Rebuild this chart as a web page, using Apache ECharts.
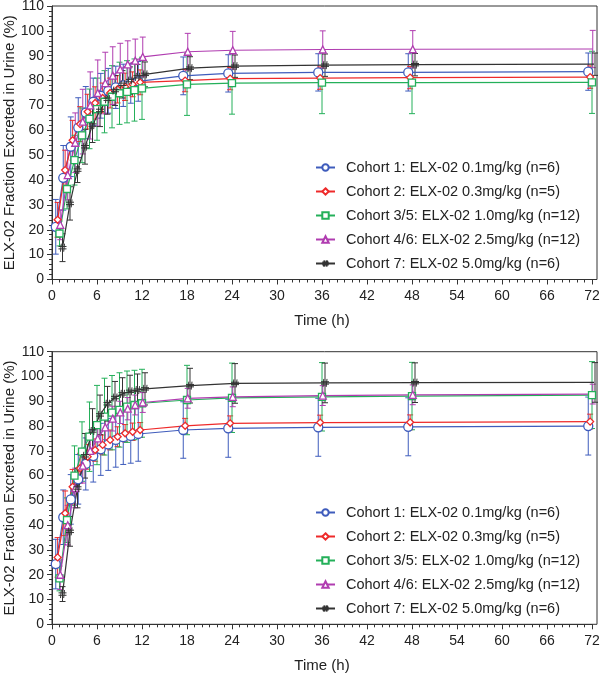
<!DOCTYPE html>
<html><head><meta charset="utf-8">
<script src="https://cdn.jsdelivr.net/npm/echarts@6/dist/echarts.min.js"></script>
<style>html,body{margin:0;padding:0;background:#fff}#c{width:600px;height:677px}</style>
</head><body><div id="c"></div><script>
// ---- data ----
const times = [1,2,3,4,5,6,7,8,9,10,11,12,18,24,36,48,72];
const cohortNames = [
  'Cohort 1: ELX-02 0.1mg/kg (n=6)',
  'Cohort 2: ELX-02 0.3mg/kg (n=5)',
  'Cohort 3/5: ELX-02 1.0mg/kg (n=12)',
  'Cohort 4/6: ELX-02 2.5mg/kg (n=12)',
  'Cohort 7: ELX-02 5.0mg/kg (n=6)'
];
// top panel: mean and SD (%)
const topC1 = [21.2,40.9,53.4,61.1,67.1,71.5,73.9,75.9,77.3,78.1,78.9,79.7,81.9,82.9,83.3,83.3,83.6];
const topC1sd = [11,13,12,12,10.5,9.5,9,9,8.5,8.5,8,8,7.6,7.5,7.5,7.5,7.5];
const topC2 = [24,44,56,62.5,67.5,71,73,75,76.5,77.5,78.5,79.3,80,80.8,81,81.2,81.4];
const topC2sd = [7,8,8,7,7,6.5,6,6,5.5,5.5,5,5,4.5,4.5,4.5,4.5,4.5];
const topC3 = [18.5,36.4,48,58,64.6,68.5,71.5,73.5,74.9,75.5,76.2,76.9,78.5,79,79.2,79.2,79.3];
const topC3sd = [5,8,10,11,12,12.5,12.5,12.5,12.5,12.5,12.5,12.5,12.5,12.5,12.5,12.5,12.5];
const topC4 = [22,42,55,63.5,70,75,79,82,84.5,86.5,88,89.5,91.6,92.2,92.5,92.6,92.7];
const topC4sd = [6,10,12,13,13.5,13.3,12.4,11.6,10.5,9.5,8.7,8,7.4,7.6,7.5,7.5,7.5];
const topC5 = [12.8,30.6,44,53.4,62.1,68,72.5,76,78.5,80,81.5,82.5,85,85.8,86.2,86.4,86.6];
const topC5sd = [5.6,6.7,5,7,7,6.5,6,6,5.5,5.5,5,5,4.6,4.5,4.5,4.5,4.5];
// bottom panel
const botC1 = [24.3,43.2,50.4,58.5,64.7,67.9,70.6,72.6,74.4,75.5,76,76.8,78.4,79.1,79.5,79.7,80];
const botC1sd = [10,11,10,10,10.5,10.5,10.5,10.5,11,11,11,11,11.4,11.7,11.7,11.7,11.7];
const botC2 = [27,44.8,55.5,63,67.6,70.3,72.4,74.4,75.7,77.1,77.7,78.4,80.1,81.1,81.4,81.5,81.8];
const botC2sd = [8,9,7,6,5,4.5,4,4,4,3.5,3.5,3,3,3,3,3,3];
const botC3 = [18.5,42,60,69.7,75.7,80.4,83.8,85.4,86.5,87.8,88.5,89.2,90.5,91.4,91.8,92.1,92.5];
const botC3sd = [5,9,12,12,14,16,15.5,15,15,14.4,14,13.7,14,14,13.8,13.6,13.5];
const botC4 = [20,40,55,64,70,75,79.5,83,85.5,87,88.5,89.5,91.2,91.8,92.3,92.6,92.9];
const botC4sd = [6,8,8,7,6,6,5,5,4.5,4.5,4,4,4,4,4,4,4];
const botC5 = [12.2,37.5,55,68,78,84.5,89,91.5,93,94,94.5,95,96.3,97.2,97.4,97.5,97.6];
const botC5sd = [3,6,8,9,9,8,7,6.5,6.5,6.5,6.5,6.5,7,8,8,8,8];

// ---- styling ----
const colors = ['#3f5cbc','#ee2a2a','#24b05a','#b03cb0','#333333'];
const symbols = ['circle','diamond','rect','triangle','path://M3.5,0L2.5,10M7.5,0L6.5,10M0,3.5L10,3.5M0,6.5L10,6.5'];
const symSizes = [9,7,7,7,8];
const symBorder = [1.3,1.3,1.3,1.3,1];
const dodge = [-0.5,-0.25,0,0.1,0.4];
const FONT = "'Liberation Sans', Arial, Helvetica, sans-serif";
const TXT = '#222';

const panels = [
  {means:[topC1,topC2,topC3,topC4,topC5], sds:[topC1sd,topC2sd,topC3sd,topC4sd,topC5sd]},
  {means:[botC1,botC2,botC3,botC4,botC5], sds:[botC1sd,botC2sd,botC3sd,botC4sd,botC5sd]}
];

const gridTops = [6, 351.7];
const gridH = [273.5, 272.6];
const legendTops = [155, 500];

const grids = [], xAxes = [], yAxes = [], series = [], legends = [];
panels.forEach((p, pi) => {
  const gi = grids.length;
  grids.push({left:52, width:540, top:gridTops[pi], height:gridH[pi], containLabel:false, outerBoundsMode:'none'});
  const ai = xAxes.length;
  xAxes.push({
    type:'value', gridIndex:gi, min:0, max:72, interval:6,
    name:'Time (h)', nameLocation:'middle', nameGap:34, nameMoveOverlap:false,
    nameTextStyle:{fontFamily:FONT, fontSize:15, color:TXT},
    axisLine:{show:true, lineStyle:{color:'#333', width:1}},
    axisTick:{show:true, length:5, lineStyle:{color:'#333'}},
    minorTick:{show:true, splitNumber:6, length:3, lineStyle:{color:'#333'}},
    splitLine:{show:false},
    axisLabel:{fontFamily:FONT, fontSize:14, color:TXT, margin:10}
  });
  yAxes.push({
    type:'value', gridIndex:gi, min:0, max:110, interval:10,
    name:'ELX-02 Fraction Excreted in Urine (%)', nameLocation:'middle', nameGap:35, nameRotate:90, nameMoveOverlap:false,
    nameTextStyle:{fontFamily:FONT, fontSize:15, color:TXT},
    axisLine:{show:true, lineStyle:{color:'#333', width:1}},
    axisTick:{show:true, length:5, lineStyle:{color:'#333'}},
    minorTick:{show:true, splitNumber:5, length:3, lineStyle:{color:'#333'}},
    splitLine:{show:false},
    axisLabel:{fontFamily:FONT, fontSize:14, color:TXT, margin:8}
  });
  p.means.forEach((m, i) => {
    const col = colors[i];
    const pts = times.map((t, k) => [t + dodge[i], m[k]]);
    const errs = times.map((t, k) => [t + dodge[i], m[k], p.sds[i][k]]);
    series.push({
      type:'custom', name:cohortNames[i] + ' SD', xAxisIndex:ai, yAxisIndex:ai,
      data:errs, encode:{x:0, y:1}, z:2, silent:true,
      renderItem:(params, api) => {
        const x = api.value(0), mm = api.value(1), s = api.value(2);
        const a = api.coord([x, mm + s]), b = api.coord([x, mm - s]);
        const hw = 3;
        const st = {stroke:col, lineWidth:1};
        return {type:'group', children:[
          {type:'line', shape:{x1:a[0], y1:a[1], x2:b[0], y2:b[1]}, style:st},
          {type:'line', shape:{x1:a[0]-hw, y1:a[1], x2:a[0]+hw, y2:a[1]}, style:st},
          {type:'line', shape:{x1:b[0]-hw, y1:b[1], x2:b[0]+hw, y2:b[1]}, style:st}
        ]};
      }
    });
    series.push({
      type:'line', name:cohortNames[i], xAxisIndex:ai, yAxisIndex:ai, data:pts, z:3,
      symbol:symbols[i], symbolSize:symSizes[i], showSymbol:true,
      lineStyle:{color:col, width:1.2},
      itemStyle:{color:'#fff', borderColor:col, borderWidth:symBorder[i]},
      emphasis:{disabled:true}
    });
  });
  legends.push({
    data:cohortNames, orient:'vertical', left:310, top:legendTops[pi],
    itemWidth:19, itemHeight:8, itemGap:9, selectedMode:false,
    textStyle:{fontFamily:FONT, fontSize:14.5, color:TXT, padding:[0,0,0,6]}
  });
  // frame (box) grid
  const fi = grids.length;
  grids.push({left:52, right:3, top:gridTops[pi], height:gridH[pi], show:true, borderColor:'#333', borderWidth:1, backgroundColor:'transparent', containLabel:false, outerBoundsMode:'none'});
  xAxes.push({type:'value', gridIndex:fi, show:false, min:0, max:1});
  yAxes.push({type:'value', gridIndex:fi, show:false, min:0, max:1});
});

const chart = echarts.init(document.getElementById('c'), null, {renderer:'canvas'});
chart.setOption({
  animation:false,
  backgroundColor:'#fff',
  grid:grids, xAxis:xAxes, yAxis:yAxes, legend:legends, series:series
});
</script></body></html>
